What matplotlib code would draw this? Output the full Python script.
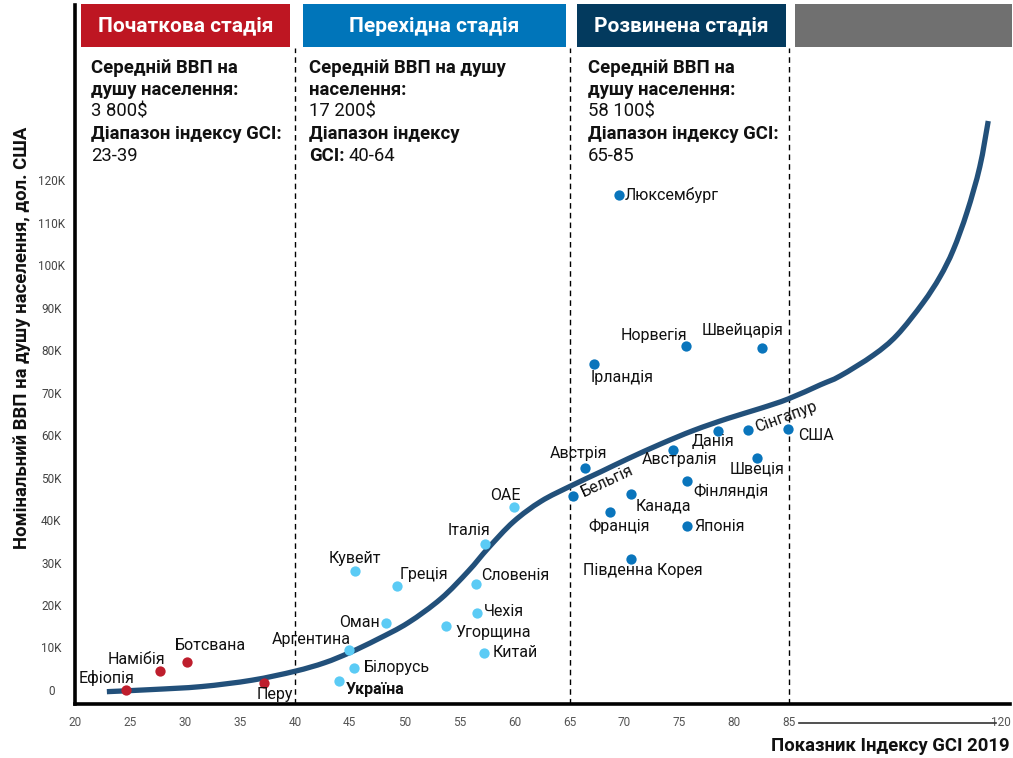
import numpy as np
import matplotlib
matplotlib.use("Agg")
import matplotlib.pyplot as plt
from matplotlib.patches import Rectangle, PathPatch
from matplotlib.path import Path

plt.rcParams['font.family'] = ['Roboto', 'DejaVu Sans']

# --- data (GCI index, GDP per capita in thousands USD) ---
initial_names = ["Ефіопія", "Намібія", "Ботсвана", "Перу"]
initial_gci = [24.6, 27.7, 30.2, 37.2]
initial_gdp = [0.0, 4.5, 6.5, 1.6]

trans_names = ["Аргентина", "Білорусь", "Україна", "Оман", "Кувейт", "Греція",
               "Угорщина", "Чехія", "Китай", "Словенія", "Італія", "ОАЕ"]
trans_gci = [44.9, 45.4, 44.0, 48.3, 45.5, 49.3, 53.8, 56.6, 57.2, 56.5, 57.3, 59.9]
trans_gdp = [9.4, 5.2, 2.1, 15.8, 28.0, 24.5, 15.1, 18.0, 8.8, 24.9, 34.3, 43.1]

dev_names = ["Люксембург", "Норвегія", "Швейцарія", "Ірландія", "Австрія", "Бельгія",
             "Австралія", "Данія", "Сінгапур", "США", "Швеція", "Фінляндія",
             "Канада", "Франція", "Японія", "Південна Корея"]
dev_gci = [69.5, 75.6, 82.5, 67.2, 66.4, 65.3, 74.4, 78.5, 81.2, 84.9, 82.1, 75.7,
           70.6, 68.7, 75.7, 70.6]
dev_gdp = [116.5, 80.9, 80.5, 76.7, 52.2, 45.6, 56.5, 60.9, 61.2, 61.4, 54.6, 49.2,
           46.1, 41.9, 38.6, 30.8]

# trend curve
curve_gci = [22.9, 27.0, 31.5, 36.1, 40.0, 42.7, 45.0, 47.5, 50.3, 53.3, 55.8, 57.6,
             59.9, 62.4, 65.1, 67.8, 70.3, 73.3, 76.3, 79.4, 82.4, 84.9, 90.1, 93.4,
             98.9, 102.8, 107.1, 109.9, 112.1, 114.4, 116.5, 117.9]
curve_gdp = [-0.4, 0.1, 0.8, 2.3, 4.4, 6.4, 8.8, 11.9, 15.8, 21.5, 28.0, 33.4,
             39.6, 44.4, 48.0, 51.3, 54.4, 57.9, 61.1, 63.9, 66.3, 68.5, 71.8, 73.9,
             78.8, 83.5, 91.1, 97.2, 103.5, 112.5, 123.1, 133.9]

stage_titles = ["Початкова стадія", "Перехідна стадія", "Розвинена стадія", ""]
stage_colors = ["#BE1622", "#0075BA", "#033A5E", "#707070"]
stage_gdp = ["3 800$", "17 200$", "58 100$"]
stage_range = ["23-39", "40-64", "65-85"]
stage_bounds = [40, 65, 85]

y_ticks = list(range(0, 130, 10))
x_ticks = [20, 25, 30, 35, 40, 45, 50, 55, 60, 65, 70, 75, 80, 85, 120]

# label offsets in pixels (dx, dy)
init_off = [(-19, 12), (-23, 11), (23, 17), (11, -11)]
trans_off = [(-37, 11), (43, 0), (36, -8), (-27, 0), (0, 12), (27, 11),
             (47, -7), (27, 2), (31, 0), (39, 9), (-16, 14), (-8, 11)]
dev_off = [(53, 0), (-32, 11), (-19, 17), (28, -13), (-6, 15), (34, 15),
           (7, -10), (-5, -10), (38, 13), (28, -6), (0, -11), (44, -10),
           (32, -12), (9, -14), (32, -1), (12, -11)]
dev_rot = {"Бельгія": 25, "Сінгапур": 20}

W, H = 1013, 758
fig = plt.figure(figsize=(W / 100, H / 100), dpi=100)
ax = fig.add_axes([75 / W, (H - 704) / H, (1010 - 75) / W, (704 - 5) / H])

# x axis is compressed beyond 85
K = 0.55
def fwd(x):
    x = np.asarray(x, dtype=float)
    return np.where(x <= 85, x, 85 + (x - 85) * K)
def inv(u):
    u = np.asarray(u, dtype=float)
    return np.where(u <= 85, u, 85 + (u - 85) / K)
ax.set_xscale('function', functions=(fwd, inv))
ax.set_xlim(20.2, 121.5)
ax.set_ylim(-3.3, 161.2)

for s in ['top', 'right']:
    ax.spines[s].set_visible(False)
ax.spines['left'].set_linewidth(2.6)
ax.spines['bottom'].set_linewidth(2.6)

narrow = ['Liberation Sans Narrow', 'Roboto']
ax.set_yticks(y_ticks)
ax.set_yticklabels(["0" if v == 0 else f"{v}K" for v in y_ticks])
ax.set_xticks(x_ticks)
ax.set_xticklabels([str(v) for v in x_ticks])
ax.tick_params(axis='y', length=0, pad=17, labelsize=8.5, labelcolor='#444444')
ax.tick_params(axis='x', length=0, pad=9, labelsize=8.5, labelcolor='#555555')
for lab in ax.get_yticklabels():
    lab.set_horizontalalignment('center')
for lab in ax.get_xticklabels() + ax.get_yticklabels():
    lab.set_fontfamily(narrow)

# line between the 85 and 120 tick labels
ax.plot([86.6, 119.2], [-7.7, -7.7], color='#333333', lw=1.2, clip_on=False)

# stage separators
ax.vlines(stage_bounds, -3.3, 151, colors='black', lw=1, linestyles=(0, (4, 3)))

# trend curve, drawn smooth (Catmull-Rom -> cubic bezier in scaled x)
u = fwd(curve_gci)
g = np.asarray(curve_gdp, dtype=float)
pts = np.column_stack([u, g])
ext = np.vstack([pts[0], pts, pts[-1]])
verts = [pts[0]]
codes = [Path.MOVETO]
for i in range(1, len(ext) - 2):
    p0, p1, p2, p3 = ext[i - 1], ext[i], ext[i + 1], ext[i + 2]
    verts += [p1 + (p2 - p0) / 6, p2 - (p3 - p1) / 6, p2]
    codes += [Path.CURVE4] * 3
verts = np.array(verts)
verts[:, 0] = inv(verts[:, 0])
ax.add_patch(PathPatch(Path(verts, codes), fill=False, edgecolor='#22507A',
                       lw=3.8, capstyle='butt', joinstyle='round', zorder=2))

ax.scatter(initial_gci, initial_gdp, s=55, color='#BE1E2D', zorder=3, linewidths=0)
ax.scatter(trans_gci, trans_gdp, s=55, color='#5BCBF5', zorder=3, linewidths=0)
ax.scatter(dev_gci, dev_gdp, s=55, color='#0A75BC', zorder=3, linewidths=0)

def put_labels(names, xs, ys, offs, rot=None):
    for n, x, y, (dx, dy) in zip(names, xs, ys, offs):
        r = rot.get(n, 0) if rot else 0
        w = 'bold' if n == "Україна" else 'normal'
        ax.annotate(n, (x, y), xytext=(dx, dy), textcoords='offset pixels',
                    ha='center', va='center', fontsize=11.5, rotation=r,
                    fontweight=w, color='#111111', zorder=4)

put_labels(initial_names, initial_gci, initial_gdp, init_off)
put_labels(trans_names, trans_gci, trans_gdp, trans_off)
put_labels(dev_names, dev_gci, dev_gdp, dev_off, dev_rot)

# header boxes (pixel positions)
def fx(px):
    return px / W
def fy(py):
    return 1 - py / H

boxes = [(81, 290), (303, 566), (577, 786), (795, 1012)]
for (x0, x1), title, col in zip(boxes, stage_titles, stage_colors):
    fig.add_artist(Rectangle((fx(x0), fy(47)), fx(x1) - fx(x0), fy(4) - fy(47),
                             transform=fig.transFigure, color=col, lw=0))
    if title:
        fig.text(fx((x0 + x1) / 2), fy(26), title, ha='center', va='center',
                 color='white', fontsize=15, fontweight='bold')

# stage descriptions
fs = 13.3
stage_blocks = [
    (91, [[("Середній ВВП на", True)], [("душу населення:", True)],
          [(stage_gdp[0], False)], [("Діапазон індексу GCI:", True)],
          [(stage_range[0], False)]]),
    (309, [[("Середній ВВП на душу", True)], [("населення:", True)],
           [(stage_gdp[1], False)], [("Діапазон індексу", True)],
           [("GCI:", True), (stage_range[1], False)]]),
    (588, [[("Середній ВВП на", True)], [("душу населення:", True)],
           [(stage_gdp[2], False)], [("Діапазон індексу GCI:", True)],
           [(stage_range[2], False)]]),
]
for x, lines in stage_blocks:
    for i, parts in enumerate(lines):
        y = fy(68 + 22 * i)
        first = fig.text(fx(x), y, parts[0][0], ha='left', va='center', fontsize=fs,
                         fontweight='bold' if parts[0][1] else 'normal', color='#111111')
        for txt, bold in parts[1:]:
            fig.canvas.draw()
            bb = first.get_window_extent()
            fig.text(fx(bb.x1 + 4), y, txt, ha='left', va='center', fontsize=fs,
                     fontweight='bold' if bold else 'normal', color='#111111')

# axis titles
fig.text(fx(22), fy(338), "Номінальний ВВП на душу населення, дол. США", rotation=90,
         ha='center', va='center', fontsize=13.3, fontweight='bold', color='#111111')
fig.text(fx(1010), fy(746), "Показник Індексу GCI 2019", ha='right', va='center',
         fontsize=13.3, fontweight='bold', color='#111111', family=narrow)

fig.savefig("out.png", dpi=100)
